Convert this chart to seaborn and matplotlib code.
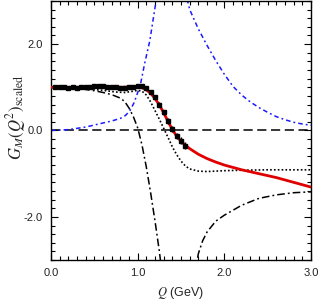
import numpy as np
import matplotlib
matplotlib.use('Agg')
import matplotlib.pyplot as plt
from matplotlib.ticker import MultipleLocator
import seaborn as sns

# ---- data ----
# experimental points
data_q = [0.05, 0.10, 0.15, 0.20, 0.25, 0.30, 0.35, 0.40, 0.45, 0.50, 0.55, 0.60,
          0.65, 0.70, 0.75, 0.80, 0.85, 0.90, 0.95, 1.00, 1.05, 1.10, 1.15, 1.20,
          1.25, 1.30, 1.35, 1.40, 1.45, 1.50, 1.55]
data_g = [1.00, 1.00, 1.00, 0.99, 1.00, 0.99, 1.00, 1.01, 1.01, 1.02, 1.02, 1.02,
          1.01, 1.00, 1.00, 0.99, 0.99, 1.00, 1.01, 1.02, 1.02, 0.98, 0.90, 0.78,
          0.60, 0.42, 0.22, 0.03, -0.12, -0.24, -0.35]
data_err = [0.02, 0.02, 0.02, 0.02, 0.02, 0.02, 0.02, 0.02, 0.02, 0.02, 0.02, 0.02,
            0.02, 0.02, 0.02, 0.02, 0.03, 0.03, 0.03, 0.03, 0.03, 0.04, 0.04, 0.05,
            0.05, 0.06, 0.06, 0.07, 0.07, 0.08, 0.08]

# red fit
red_q = [0.0, 0.2, 0.4, 0.6, 0.8, 0.95, 1.0, 1.05, 1.1, 1.15, 1.2, 1.25, 1.3, 1.35,
         1.4, 1.45, 1.5, 1.55, 1.6, 1.7, 1.8, 1.9, 2.0, 2.2, 2.4, 2.6, 2.8, 3.0]
red_g = [1.00, 1.00, 1.00, 1.01, 1.00, 1.01, 1.01, 0.99, 0.94, 0.86, 0.74, 0.59,
         0.41, 0.21, 0.02, -0.13, -0.25, -0.34, -0.42, -0.55, -0.65, -0.73, -0.80,
         -0.91, -1.00, -1.09, -1.20, -1.31]

# black dotted
dot_q = [0.0, 0.2, 0.4, 0.6, 0.75, 0.85, 0.95, 1.0, 1.05, 1.1, 1.15, 1.2, 1.25, 1.3,
         1.35, 1.4, 1.45, 1.5, 1.55, 1.6, 1.7, 1.8, 1.9, 2.0, 2.2, 2.5, 3.0]
dot_g = [1.00, 0.99, 0.97, 0.93, 0.89, 0.88, 0.91, 0.93, 0.91, 0.82, 0.66, 0.46,
         0.26, 0.05, -0.16, -0.38, -0.56, -0.71, -0.82, -0.89, -0.94, -0.95, -0.94,
         -0.93, -0.92, -0.91, -0.91]

# black dash-dot, two branches either side of the pole
dd1_q = [0.0, 0.2, 0.33, 0.5, 0.6, 0.7, 0.8, 0.85, 0.9, 0.95, 1.0, 1.05, 1.1, 1.15,
         1.2, 1.25, 1.28]
dd1_g = [1.00, 0.99, 0.97, 0.92, 0.88, 0.83, 0.75, 0.67, 0.52, 0.32, 0.06, -0.34,
         -0.85, -1.45, -2.10, -2.80, -3.30]
dd2_q = [1.66, 1.7, 1.75, 1.8, 1.9, 2.0, 2.2, 2.4, 2.6, 2.8, 3.0]
dd2_g = [-3.30, -2.85, -2.55, -2.35, -2.10, -1.96, -1.73, -1.57, -1.49, -1.44, -1.42]

# blue dash-dot, two branches
bl1_q = [0.0, 0.2, 0.4, 0.57, 0.7, 0.8, 0.86, 0.91, 0.96, 1.0, 1.03, 1.08, 1.14,
         1.2, 1.23]
bl1_g = [0.00, 0.02, 0.08, 0.16, 0.22, 0.28, 0.35, 0.46, 0.65, 0.88, 1.05, 1.55,
         2.08, 2.85, 3.20]
bl2_q = [1.55, 1.6, 1.7, 1.8, 1.9, 2.0, 2.1, 2.2, 2.3, 2.4, 2.5, 2.6, 2.7, 2.8,
         2.9, 3.0]
bl2_g = [3.20, 2.80, 2.35, 1.97, 1.62, 1.30, 1.02, 0.82, 0.66, 0.53, 0.42, 0.32,
         0.25, 0.19, 0.15, 0.12]

sns.set_style("ticks")
plt.rcParams['font.family'] = ['Liberation Sans', 'DejaVu Sans']
plt.rcParams['mathtext.fontset'] = 'stix'
plt.rcParams['axes.unicode_minus'] = False

fig = plt.figure(figsize=(3.19, 3.0), dpi=100)
ax = fig.add_axes([0.160, 0.133, 0.815, 0.864])

ax.axhline(0, color='black', lw=1.1, linestyle=(0, (6, 3)), zorder=1)

dashdot = (0, (5, 2, 1.2, 2))
bluedash = (0, (3, 2, 1.2, 2))
sns.lineplot(x=dd1_q, y=dd1_g, ax=ax, color='black', lw=1.1, linestyle=dashdot, sort=False)
sns.lineplot(x=dd2_q, y=dd2_g, ax=ax, color='black', lw=1.1, linestyle=dashdot, sort=False)
sns.lineplot(x=bl1_q, y=bl1_g, ax=ax, color='#1a1aff', lw=1.1, linestyle=bluedash, sort=False)
sns.lineplot(x=bl2_q, y=bl2_g, ax=ax, color='#1a1aff', lw=1.1, linestyle=bluedash, sort=False)
sns.lineplot(x=dot_q, y=dot_g, ax=ax, color='black', lw=1.2, linestyle=(0, (1, 1.3)), sort=False)
sns.lineplot(x=red_q, y=red_g, ax=ax, color='#e00000', lw=2.0, sort=False, zorder=3)

ax.errorbar(data_q, data_g, yerr=data_err, fmt='s', color='black', ms=3.0,
            elinewidth=1.0, capsize=0, zorder=4)

ax.set_xlim(0, 3.0)
ax.set_ylim(-3.0, 3.0)
ax.xaxis.set_major_locator(MultipleLocator(1.0))
ax.xaxis.set_minor_locator(MultipleLocator(0.1))
ax.yaxis.set_major_locator(MultipleLocator(2.0))
ax.yaxis.set_minor_locator(MultipleLocator(0.2))
ax.xaxis.set_major_formatter(matplotlib.ticker.FormatStrFormatter('%.1f'))
ax.yaxis.set_major_formatter(matplotlib.ticker.FormatStrFormatter('%.1f'))
ax.tick_params(which='both', direction='in', top=True, right=True, width=0.8,
               labelsize=8, colors='black', labelcolor='#222222')
ax.tick_params(which='major', length=5, pad=6)
ax.tick_params(which='minor', length=3)
for s in ax.spines.values():
    s.set_linewidth(1.0)
    s.set_color('black')

ax.set_xlabel('$Q$ (GeV)', fontsize=9, labelpad=5)
ax.set_ylabel(r'$G_M(Q^2)_{\mathrm{scaled}}$', fontsize=12)
ax.yaxis.set_label_coords(-0.09, 0.55)

fig.savefig('out.png', dpi=100)
